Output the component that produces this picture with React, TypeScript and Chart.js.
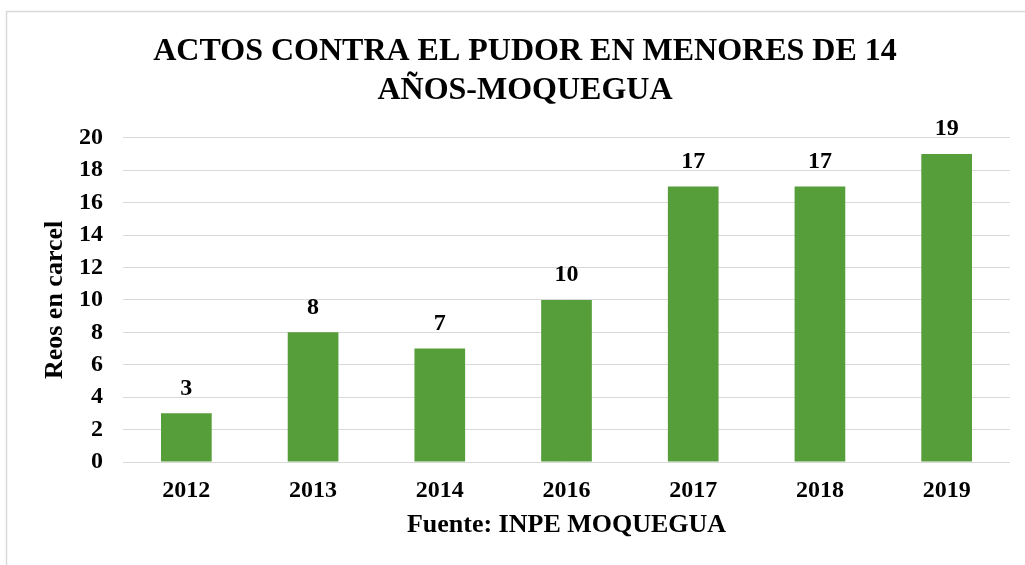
import { useEffect, useRef } from "react";
import { Chart, registerables } from "chart.js";

Chart.register(...registerables);

const titleLines = ["ACTOS CONTRA EL PUDOR EN MENORES DE 14", "AÑOS-MOQUEGUA"];
const years = ["2012", "2013", "2014", "2016", "2017", "2018", "2019"];
const reos = [3, 8, 7, 10, 17, 17, 19];
const yAxisTitle = "Reos en carcel";
const xAxisTitle = "Fuente: INPE MOQUEGUA";

const FONT = '"Times New Roman", "Liberation Serif", serif';
const BAR = "#559E3A";
const GRID = "#d9d9d9";

const framePlugin = {
  id: "frame",
  beforeDraw(chart: any) {
    const ctx = chart.ctx;
    ctx.save();
    ctx.fillStyle = "#ffffff";
    ctx.fillRect(0, 0, chart.width, chart.height);
    ctx.strokeStyle = GRID;
    ctx.lineWidth = 1.5;
    ctx.strokeRect(6.5, 11.5, chart.width + 50, chart.height + 50);
    ctx.restore();
  },
};

const labelPlugin = {
  id: "barLabels",
  afterDatasetsDraw(chart: any) {
    const ctx = chart.ctx;
    const meta = chart.getDatasetMeta(0);
    const data = chart.data.datasets[0].data;
    ctx.save();
    ctx.font = `bold 24px ${FONT}`;
    ctx.fillStyle = "#000";
    ctx.textAlign = "center";
    ctx.textBaseline = "middle";
    meta.data.forEach((bar: any, i: number) => {
      ctx.fillText(String(data[i]), bar.x, bar.y - 25);
    });
    ctx.restore();
  },
};

export default function App() {
  const ref = useRef<HTMLCanvasElement | null>(null);

  useEffect(() => {
    document.body.style.margin = "0";
    const canvas = ref.current;
    if (!canvas) return;
    const chart = new Chart(canvas, {
      type: "bar",
      data: {
        labels: years,
        datasets: [
          {
            data: reos,
            backgroundColor: BAR,
            borderWidth: 0,
            categoryPercentage: 1,
            barPercentage: 0.4,
          },
        ],
      },
      options: {
        responsive: false,
        animation: false,
        layout: { padding: { left: 40, right: 15, top: 0, bottom: 0 } },
        plugins: {
          legend: { display: false },
          tooltip: { enabled: false },
          title: {
            display: true,
            text: titleLines,
            color: "#000",
            font: { family: FONT, size: 32, weight: "bold", lineHeight: 1.2 },
            padding: { top: 33, bottom: 28 },
          },
        },
        scales: {
          x: {
            grid: { display: false, drawTicks: false },
            border: { display: false },
            ticks: {
              color: "#000",
              padding: 14,
              font: { family: FONT, size: 24, weight: "bold" },
            },
            title: {
              display: true,
              text: xAxisTitle,
              color: "#000",
              font: { family: FONT, size: 26, weight: "bold" },
              padding: { top: 0, bottom: 24 },
            },
            afterFit(scale: any) {
              scale.height = 103;
            },
          },
          y: {
            min: 0,
            max: 20,
            ticks: {
              stepSize: 2,
              color: "#000",
              padding: 20,
              font: { family: FONT, size: 24, weight: "bold" },
            },
            grid: { color: GRID, lineWidth: 1, drawTicks: false },
            border: { display: false },
            title: {
              display: true,
              text: yAxisTitle,
              color: "#000",
              font: { family: FONT, size: 26, weight: "bold" },
              padding: { top: 0, bottom: 0 },
            },
            afterFit(scale: any) {
              scale.width = 83;
            },
          },
        },
      },
      plugins: [framePlugin, labelPlugin],
    });
    return () => chart.destroy();
  }, []);

  return (
    <div style={{ position: "absolute", left: 0, top: 0 }}>
      <canvas ref={ref} width={1025} height={565} style={{ display: "block" }} />
    </div>
  );
}
